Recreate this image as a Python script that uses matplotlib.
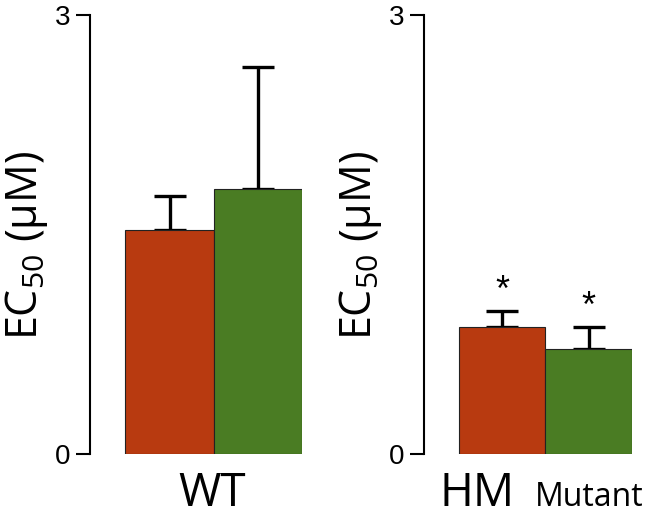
import matplotlib
matplotlib.use("Agg")
import matplotlib.pyplot as plt

plt.rcParams["mathtext.fontset"] = "custom"
plt.rcParams["mathtext.rm"] = "Open Sans"
plt.rcParams["mathtext.it"] = "Open Sans"

groups = ["WT", "HM"]
means = {"WT": [1.53, 1.81], "HM": [0.87, 0.72]}
err_up = {"WT": [0.23, 0.835], "HM": [0.11, 0.15]}
stars = {"WT": ["", ""], "HM": ["*", "*"]}
colors = ["#B83A10", "#4A7C23"]
yticks = [0, 3]

fig = plt.figure(figsize=(6.52, 5.2), dpi=100)
panels = [(90, 212, "WT"), (424, 208, "HM")]

for left_px, w_px, g in panels:
    ax = fig.add_axes([left_px / 652, 66 / 520, w_px / 652, 439 / 520])
    x = [0, 1]
    ax.bar(x, means[g], width=1, color=colors, edgecolor="#222222", linewidth=0.8, zorder=2)
    ax.errorbar(x, means[g], yerr=[[0, 0], err_up[g]], fmt="none", ecolor="black",
                elinewidth=2.4, capsize=11.5, capthick=2.4, zorder=1)
    for xi, m, e, s in zip(x, means[g], err_up[g], stars[g]):
        if s:
            ax.text(xi, m + e + 0.01, s, ha="center", va="bottom", fontsize=26,
                    family="Liberation Sans")
    ax.set_xlim(-0.9, 1.5)
    ax.set_ylim(0, 3)
    for sp in ["top", "right", "bottom"]:
        ax.spines[sp].set_visible(False)
    ax.spines["left"].set_bounds(0, 3)
    ax.spines["left"].set_linewidth(1.5)
    ax.set_yticks(yticks)
    ax.set_yticklabels([str(t) for t in yticks], fontsize=20, family="Liberation Sans")
    ax.tick_params(axis="y", length=10, width=1.5, pad=4)
    ax.set_xticks([])
    ax.set_ylabel("EC$_{50}$ (μM)", fontsize=31, family="Open Sans")
    ax.yaxis.set_label_coords(-40 / w_px, 0.475)

fig.text(212 / 652, 26 / 520, "WT", ha="center", va="center", fontsize=33, family="Open Sans")
fig.text(477 / 652, 26 / 520, "HM", ha="center", va="center", fontsize=33, family="Open Sans")
fig.text(589 / 652, 22 / 520, "Mutant", ha="center", va="center", fontsize=23, family="Open Sans")

fig.savefig("out.png", dpi=100)
